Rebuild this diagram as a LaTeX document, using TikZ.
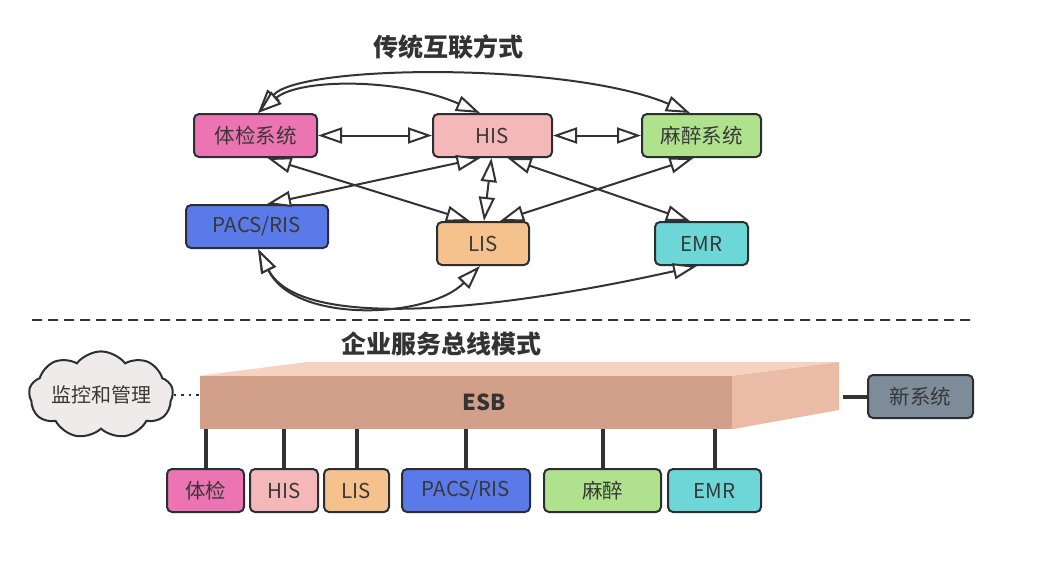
\documentclass[tikz,border=0pt]{standalone}
\usepackage{fontspec}
\setmainfont{Noto Sans CJK SC}
\usetikzlibrary{arrows.meta,shapes.symbols,calc}
\definecolor{ln}{HTML}{333333}
\definecolor{bd}{HTML}{2B2F33}
\definecolor{txt}{HTML}{383838}
\definecolor{cpink}{HTML}{EC74B2}
\definecolor{chis}{HTML}{F4B8B8}
\definecolor{cmz}{HTML}{B0E28E}
\definecolor{cpacs}{HTML}{5A7AE9}
\definecolor{clis}{HTML}{F5C28E}
\definecolor{cemr}{HTML}{6DD6D6}
\definecolor{cnew}{HTML}{7E8B99}
\definecolor{cloudc}{HTML}{EFEBEA}
\definecolor{esbfront}{HTML}{D2A088}
\definecolor{esbtop}{HTML}{F6D3C0}
\definecolor{esbright}{HTML}{EBBCA5}
\tikzset{
  sysbox/.style={draw=bd, line width=2pt, rounded corners=5pt, minimum height=43pt,
    inner sep=0pt, text=txt, font=\fontsize{20.5}{24}\selectfont},
  tip/.tip={Triangle[open,fill=white,length=24pt,width=16pt,line width=2pt]},
  link/.style={draw=ln, line width=2pt, tip-tip},
  busline/.style={draw=ln, line width=4pt},
  ttl/.style={text=ln, font=\fontsize{25}{30}\selectfont\bfseries},
}
\begin{document}
\begin{tikzpicture}[x=1pt,y=-1pt]
\useasboundingbox (0,0) rectangle (1041,582);
% ---------- traditional ----------
\node[ttl] (t1) at (448,47) {传统互联方式};
\node[sysbox, fill=cpink, minimum width=123pt] (tj) at (255.5,135.5) {体检系统};
\node[sysbox, fill=chis, minimum width=119pt] (his) at (492.5,135.5) {HIS};
\node[sysbox, fill=cmz, minimum width=119pt] (mz) at (701.5,135.5) {麻醉系统};
\node[sysbox, fill=cpacs, minimum width=142pt] (pacs) at (257,226.5) {PACS/RIS};
\node[sysbox, fill=clis, minimum width=92pt] (lis) at (483,243.5) {LIS};
\node[sysbox, fill=cemr, minimum width=93pt] (emr) at (701.5,243.5) {EMR};

\draw[link] (tj.east) -- (his.west);
\draw[link] (his.east) -- (mz.west);
\draw[link] ([xshift=2.5pt]tj.north) .. controls (300,64) and (570,62) .. ([xshift=-11.5pt]mz.north);
\draw[link] ([xshift=2.5pt]tj.north) .. controls (300,78) and (400,78) .. ([xshift=-12.5pt]his.north);
\draw[link] ([xshift=12pt]tj.south) -- ([xshift=-13pt]lis.north);
\draw[link] ([xshift=10pt]pacs.north) -- ([xshift=-12pt]his.south);
\draw[link] ([xshift=-1pt]his.south) -- ([xshift=1pt]lis.north);
\draw[link] ([xshift=-8pt]mz.south) -- ([xshift=17pt]lis.north);
\draw[link] ([xshift=15pt]his.south) -- ([xshift=-11.5pt]emr.north);
\draw[link] ([xshift=1pt]pacs.south) .. controls (295,325) and (430,318) .. ([xshift=-3pt]lis.south);
\draw[link] ([xshift=1pt]pacs.south) .. controls (300,332) and (500,310) .. ([xshift=-4.5pt]emr.south);

% ---------- separator ----------
\draw[draw=ln, line width=2pt, dash pattern=on 10pt off 6pt] (32,320) -- (972,320);

% ---------- ESB ----------
\node[ttl] (t2) at (441,344) {企业服务总线模式};
\node[fill=esbfront, minimum width=532pt, minimum height=53pt, inner sep=0pt] (esb) at (466,402.5) {};
\fill[esbtop] (esb.north west) -- (307,362) -- (839,362) -- (esb.north east) -- cycle;
\fill[esbright] (esb.north east) -- (839,362) -- (839,410) -- (esb.south east) -- cycle;
\node[text=ln, font=\fontsize{22}{26}\selectfont\bfseries] (esbl) at (484,402) {ESB};

\node[cloud, cloud puffs=9, cloud puff arc=105, aspect=2.1, draw=bd, line width=2pt, fill=cloudc,
      minimum width=142pt, minimum height=72pt, inner sep=0pt, text=txt,
      font=\fontsize{20}{24}\selectfont] (cl) at (101,395) {监控和管理};
\draw[draw=ln, line width=2.5pt, dash pattern=on 2.5pt off 5pt] (cl.east) -- (cl.east -| esb.west);

\node[sysbox, fill=cnew, minimum width=105pt] (new) at (920.5,396.5) {新系统};
\coordinate (busend) at (843,396.5);
\draw[busline] (busend) -- (new.west);

\node[sysbox, fill=cpink, minimum width=77pt] (b1) at (205.5,490.5) {体检};
\node[sysbox, fill=chis, minimum width=68pt] (b2) at (284,490.5) {HIS};
\node[sysbox, fill=clis, minimum width=65pt] (b3) at (356.5,490.5) {LIS};
\node[sysbox, fill=cpacs, minimum width=128pt] (b4) at (466,490.5) {PACS/RIS};
\node[sysbox, fill=cmz, minimum width=117pt] (b5) at (602.5,490.5) {麻醉};
\node[sysbox, fill=cemr, minimum width=93pt] (b6) at (714.5,490.5) {EMR};
\foreach \b in {b1,b2,b3,b4,b5,b6}
  \draw[busline] (\b.north |- esb.south) -- (\b.north);
\end{tikzpicture}
\end{document}
